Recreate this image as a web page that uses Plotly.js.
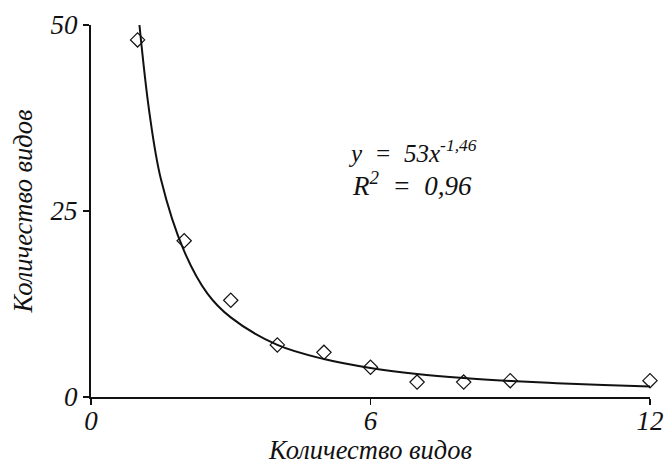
<!DOCTYPE html>
<html><head><meta charset="utf-8">
<script src="https://cdn.plot.ly/plotly-3.0.1.min.js"></script>
<style>body{margin:0;background:#fff}#chart{width:664px;height:465px}</style>
</head><body><div id="chart"></div>
<script>
const obsX = [1, 2, 3, 4, 5, 6, 7, 8, 9, 12];
const obsY = [48, 21, 13, 7, 6, 4, 2, 2, 2.2, 2.2];
const trendX = [1.04, 1.25, 1.5, 2, 2.5, 3, 4, 5, 6, 7, 8, 9, 10, 11, 12];
const trendY = [50, 38.4, 29.3, 19.6, 13.9, 10.7, 7.0, 5.1, 3.9, 3.1, 2.55, 2.15, 1.85, 1.6, 1.4];
const xTicks = [0, 6, 12];
const yTicks = [0, 25, 50];
const axisTitle = 'Количество видов';
const eqText = 'y&nbsp;&nbsp;=&nbsp;&nbsp;53x<sup>-1,46</sup>';
const r2Text = 'R<sup>2</sup>&nbsp;&nbsp;=&nbsp;&nbsp;0,96';

const font = {family: "'Liberation Serif'", style: 'italic', color: '#111'};
const f = s => Object.assign({}, font, {size: s});

const traces = [
  {x: trendX, y: trendY, type: 'scatter', mode: 'lines',
   line: {color: '#111', width: 2, shape: 'spline'}, hoverinfo: 'skip'},
  {x: obsX, y: obsY, type: 'scatter', mode: 'markers', cliponaxis: false,
   marker: {symbol: 'diamond-open', size: 11, color: '#111', line: {width: 1.2, color: '#111'}}}
];

const layout = {
  width: 664, height: 465,
  margin: {l: 91, r: 14, t: 25, b: 68},
  paper_bgcolor: '#fff', plot_bgcolor: '#fff',
  showlegend: false,
  font: font,
  xaxis: {range: [0, 12], tickvals: xTicks, ticktext: xTicks.map(String),
    showgrid: false, zeroline: false, showline: true, linecolor: '#111', linewidth: 2,
    ticks: 'outside', ticklen: 6, tickwidth: 1.5, tickcolor: '#111',
    ticklabelstandoff: -7,
    tickfont: f(27),
    title: {text: axisTitle, font: f(26.5), standoff: 3}},
  yaxis: {range: [0, 50], tickvals: yTicks, ticktext: yTicks.map(String),
    showgrid: false, zeroline: false, showline: true, linecolor: '#111', linewidth: 2,
    ticks: 'outside', ticklen: 6, tickwidth: 1.5, tickcolor: '#111',
    tickfont: f(27),
    title: {text: axisTitle, font: f(26.5), standoff: 10}},
  annotations: [
    {x: 6.9, y: 33.1, xref: 'x', yref: 'y', text: eqText, showarrow: false, font: f(25)},
    {x: 6.9, y: 28.6, xref: 'x', yref: 'y', text: r2Text, showarrow: false, font: f(27)}
  ]
};

Plotly.newPlot('chart', traces, layout, {staticPlot: true});
</script></body></html>
